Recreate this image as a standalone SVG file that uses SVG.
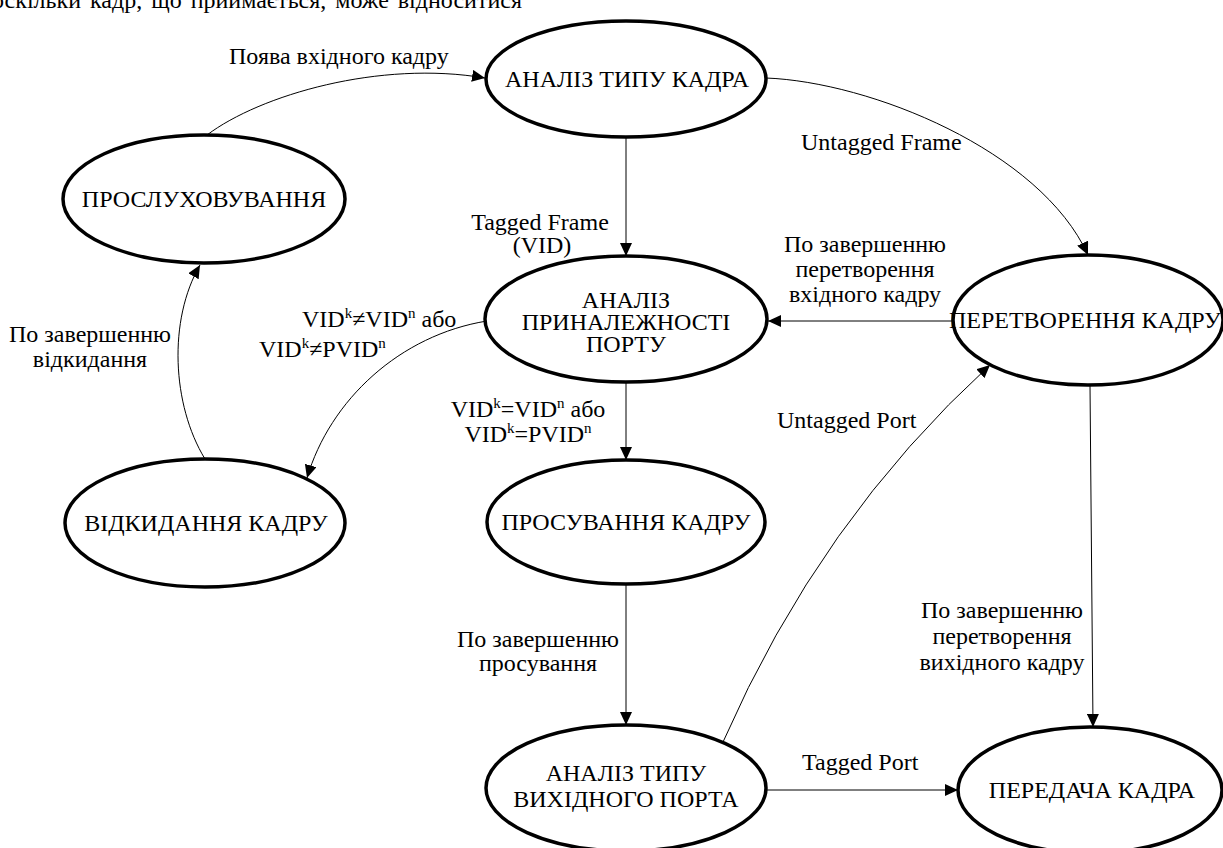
<svg xmlns="http://www.w3.org/2000/svg" width="1223" height="848" viewBox="0 0 1223 848">
<style>
text{font-family:"Liberation Serif","Times New Roman",serif;font-size:24px;fill:#000}
.node ellipse{fill:#fff;stroke:#000;stroke-width:3.5}
.node text{text-anchor:middle}
.edge{fill:none;stroke:#000;stroke-width:1}
.mid{text-anchor:middle}
.sup{font-size:15px}
</style>
<defs>
<marker id="arr" markerUnits="userSpaceOnUse" markerWidth="14" markerHeight="12" refX="13" refY="6" orient="auto">
<path d="M0,0 L13,6 L0,12 z" fill="#000"/>
</marker>
</defs>
<rect width="1223" height="848" fill="#fff"/>
<text x="-8" y="8" word-spacing="3">оскільки кадр, що приймається, може відноситися</text>
<g id="connectors">
<path class="edge" d="M207,135 C260,95 380,60 485,78" marker-end="url(#arr)"/>
<path class="edge" d="M766,78 C870,82 1040,150 1088,255" marker-end="url(#arr)"/>
<path class="edge" d="M626,137 L626,256" marker-end="url(#arr)"/>
<path class="edge" d="M953,321 L768,321" marker-end="url(#arr)"/>
<path class="edge" d="M487,321 C400,335 330,400 307,478" marker-end="url(#arr)"/>
<path class="edge" d="M205,459 C172,405 168,320 200,265" marker-end="url(#arr)"/>
<path class="edge" d="M626,382 L626,460" marker-end="url(#arr)"/>
<path class="edge" d="M626,585 L626,725" marker-end="url(#arr)"/>
<path class="edge" d="M723,742 Q820,520 990,365" marker-end="url(#arr)"/>
<path class="edge" d="M762,790 L958,790" marker-end="url(#arr)"/>
<path class="edge" d="M1090,385 L1093,727" marker-end="url(#arr)"/>
</g>
<g id="labels">
<text x="229" y="64">Поява вхідного кадру</text>
<text x="801" y="150">Untagged Frame</text>
<text class="mid" x="540" y="230">Tagged Frame</text>
<text class="mid" x="542" y="253">(VID)</text>
<text class="mid" x="865" y="252">По завершенню</text>
<text class="mid" x="865" y="277">перетворення</text>
<text class="mid" x="865" y="302">вхідного кадру</text>
<text x="302" y="327">VID<tspan class="sup" dy="-9">k</tspan><tspan dy="9">≠VID</tspan><tspan class="sup" dy="-9">n</tspan><tspan dy="9"> або</tspan></text>
<text x="259" y="357">VID<tspan class="sup" dy="-9">k</tspan><tspan dy="9">≠PVID</tspan><tspan class="sup" dy="-9">n</tspan></text>
<text class="mid" x="528" y="417">VID<tspan class="sup" dy="-9">k</tspan><tspan dy="9">=VID</tspan><tspan class="sup" dy="-9">n</tspan><tspan dy="9"> або</tspan></text>
<text class="mid" x="528" y="442">VID<tspan class="sup" dy="-9">k</tspan><tspan dy="9">=PVID</tspan><tspan class="sup" dy="-9">n</tspan></text>
<text class="mid" x="90" y="342">По завершенню</text>
<text class="mid" x="90" y="367">відкидання</text>
<text x="777" y="428">Untagged Port</text>
<text class="mid" x="538" y="647">По завершенню</text>
<text class="mid" x="538" y="671">просування</text>
<text x="802" y="770">Tagged Port</text>
<text class="mid" x="1002" y="618">По завершенню</text>
<text class="mid" x="1002" y="644">перетворення</text>
<text class="mid" x="1002" y="670">вихідного кадру</text>
</g>
<g id="n-listen" class="node"><ellipse cx="204" cy="199" rx="141" ry="64"/><text x="204" y="207">ПРОСЛУХОВУВАННЯ</text></g>
<g id="n-type" class="node"><ellipse cx="626" cy="79" rx="140" ry="58"/><text x="627" y="87">АНАЛІЗ ТИПУ КАДРА</text></g>
<g id="n-member" class="node"><ellipse cx="626" cy="319" rx="141" ry="63"/><text x="626" y="308">АНАЛІЗ</text><text x="626" y="330">ПРИНАЛЕЖНОСТІ</text><text x="626" y="352">ПОРТУ</text></g>
<g id="n-convert" class="node"><ellipse cx="1088" cy="320" rx="135" ry="65"/><text x="1085" y="328">ПЕРЕТВОРЕННЯ КАДРУ</text></g>
<g id="n-drop" class="node"><ellipse cx="205" cy="523" rx="140" ry="64"/><text x="206" y="531">ВІДКИДАННЯ КАДРУ</text></g>
<g id="n-forward" class="node"><ellipse cx="626" cy="522" rx="139" ry="62"/><text x="626" y="530">ПРОСУВАННЯ КАДРУ</text></g>
<g id="n-outport" class="node"><ellipse cx="626" cy="788" rx="140" ry="63"/><text x="626" y="781">АНАЛІЗ ТИПУ</text><text x="626" y="807">ВИХІДНОГО ПОРТА</text></g>
<g id="n-send" class="node"><ellipse cx="1090" cy="790" rx="132" ry="63"/><text x="1092" y="798">ПЕРЕДАЧА КАДРА</text></g>
</svg>
